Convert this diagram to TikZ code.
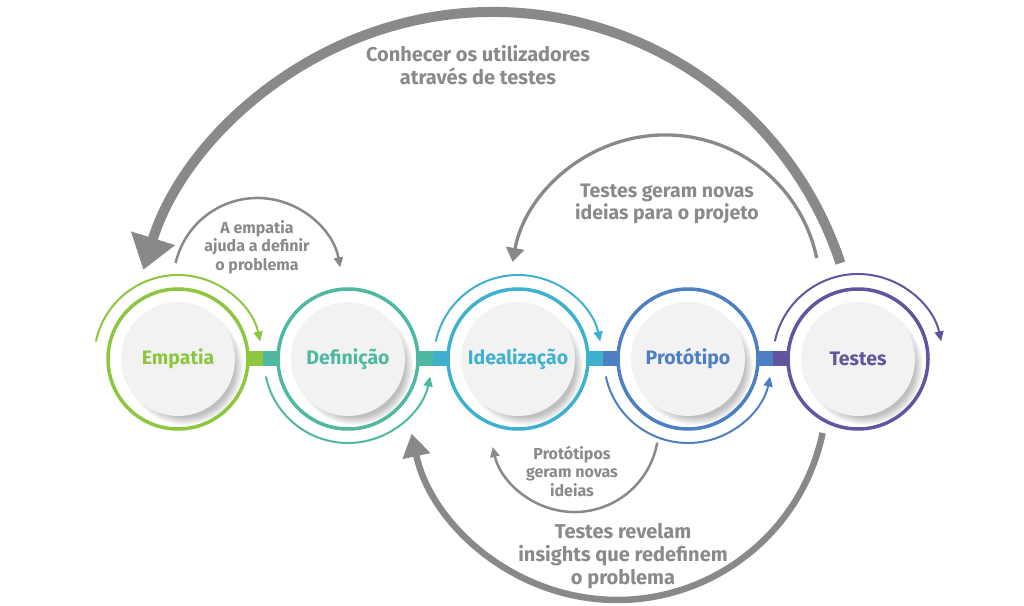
\documentclass[tikz,border=0pt]{standalone}
\usepackage{fontspec}
\setmainfont{Fira Sans}
\usetikzlibrary{positioning,calc,shadows,arrows.meta}
\definecolor{empc}{HTML}{8DC63F}
\definecolor{defc}{HTML}{4FB8A1}
\definecolor{idec}{HTML}{3EB1CF}
\definecolor{proc}{HTML}{4D80C3}
\definecolor{tesc}{HTML}{62559F}
\definecolor{disk}{HTML}{F2F2F2}
\definecolor{arcgray}{HTML}{898989}
\definecolor{txtgray}{HTML}{8A8A8A}
\def\Fnt#1#2{\fontsize{#1}{#2}\selectfont\bfseries}

\begin{document}
\begin{tikzpicture}[x=1pt,y=1pt,% one pt per pixel of the reference
      every node/.style={
        align=center,     % "\\" breaks the labels
        outer sep=0pt
      },
      stage/.style={circle,fill=disk,minimum size=114pt,inner sep=0pt,
        circular drop shadow={shadow xshift=6pt,shadow yshift=-7pt,
          shadow scale=1.03,opacity=.5},
        font=\Fnt{19.5}{23}},
      ringline/.style={line width=3.5pt},
      turn/.style={line width=2pt,-{Triangle[length=10pt,width=9pt]}},
      back/.style={draw=arcgray,line width=2.5pt,-{Triangle[length=10pt,width=9pt]}},
      note/.style={text=txtgray}
    ]
    \fill[white] (0,0) rectangle (1024,605);
    \useasboundingbox (0,0) rectangle (1024,605);

    % the five stages
    \node[stage,text=empc](C1) at (178,246) {Empatia};
    \node[stage,text=defc,right=56pt of C1](C2) {Definição};
    \node[stage,text=idec,right=56pt of C2](C3) {Idealização};
    \node[stage,text=proc,right=56pt of C3](C4) {Protótipo};
    \node[stage,text=tesc,right=56pt of C4](C5) {Testes};

    % links between the rings
    \fill[empc] ($(C1)+(70pt,-7.5pt)$) rectangle ($(C1)+(85pt,7.5pt)$);
    \fill[defc] ($(C1)+(85pt,-7.5pt)$) rectangle ($(C2)+(-70pt,7.5pt)$);
    \fill[defc] ($(C2)+(70pt,-7.5pt)$) rectangle ($(C2)+(85pt,7.5pt)$);
    \fill[idec] ($(C2)+(85pt,-7.5pt)$) rectangle ($(C3)+(-70pt,7.5pt)$);
    \fill[idec] ($(C3)+(70pt,-7.5pt)$) rectangle ($(C3)+(85pt,7.5pt)$);
    \fill[proc] ($(C3)+(85pt,-7.5pt)$) rectangle ($(C4)+(-70pt,7.5pt)$);
    \fill[proc] ($(C4)+(70pt,-7.5pt)$) rectangle ($(C4)+(85pt,7.5pt)$);
    \fill[tesc] ($(C4)+(85pt,-7.5pt)$) rectangle ($(C5)+(-70pt,7.5pt)$);

    % rings and turning arrows
    \draw[ringline,empc] (C1.center) circle[radius=70pt];
    \draw[ringline,defc] (C2.center) circle[radius=70pt];
    \draw[ringline,idec] (C3.center) circle[radius=70pt];
    \draw[ringline,proc] (C4.center) circle[radius=70pt];
    \draw[ringline,tesc] (C5.center) circle[radius=70pt];
    \draw[turn,empc] ($(C1)+(168:84pt)$) arc[start angle=168,end angle=12,radius=84pt];
    \draw[turn,defc] ($(C2)+(192:84pt)$) arc[start angle=192,end angle=348,radius=84pt];
    \draw[turn,idec] ($(C3)+(168:84pt)$) arc[start angle=168,end angle=12,radius=84pt];
    \draw[turn,proc] ($(C4)+(192:84pt)$) arc[start angle=192,end angle=348,radius=84pt];
    \draw[turn,tesc] ($(C5)+(168:85pt)$) arc[start angle=168,end angle=12,radius=85pt];

    % feedback arrows
    \draw[back,line width=10pt,-{Triangle[length=33pt,width=44pt]}]
      ($(C5)+(-17.6pt,95.9pt)$) arc[start angle=18.3,end angle=162.8,radius=366pt];
    \draw[back,line width=3.3pt,-{Triangle[length=14pt,width=18pt]}]
      ($(C5)+(-41.3pt,101pt)$) arc[start angle=11.9,end angle=169.6,radius=155pt];
    \draw[back] ($(C1)+(-2.4pt,95.9pt)$) arc[start angle=167,end angle=10,radius=84pt];
    \draw[back] ($(C4)+(-30.8pt,-83.6pt)$) arc[start angle=-10,end angle=-167,radius=84pt];
    \draw[back,line width=6.5pt,-{Triangle[length=23pt,width=27pt]}]
      ($(C5)+(-35.4pt,-73.9pt)$) arc[start angle=-11.8,end angle=-168,radius=210pt];

    % texts on the arrows
    \node[note,font=\Fnt{20}{23.5}](T1) at (478,540) {Conhecer os utilizadores\\através de testes};
    \node[note,font=\Fnt{19.5}{22.5}](T2) at (667,401) {Testes geram novas\\ideias para o projeto};
    \node[note,font=\Fnt{16}{18.5}](T3) at (257,358) {A empatia\\ajuda a definir\\o problema};
    \node[note,font=\Fnt{16}{18.5}](T4) at (572,134) {Protótipos\\geram novas\\ideias};
    \node[note,font=\Fnt{20}{23}](T5) at (623,49) {Testes revelam\\insights que redefinem\\o problema};
  \end{tikzpicture}
\end{document}
